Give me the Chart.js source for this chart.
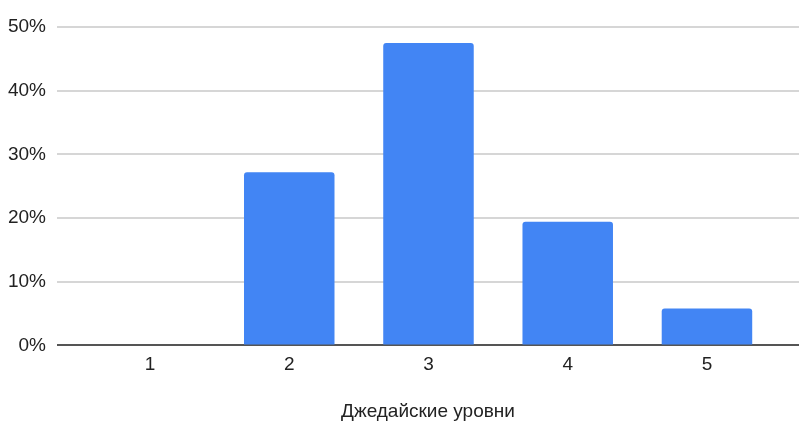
<!DOCTYPE html>
<html>
<head>
<meta charset="utf-8">
<script src="https://cdn.jsdelivr.net/npm/chart.js@4"></script>
<style>
  html, body { margin: 0; padding: 0; background: #fff; }
  #wrap { width: 808px; height: 442px; }
</style>
</head>
<body>
<div id="wrap"><canvas id="levelsChart" width="808" height="442"></canvas></div>
<script>
const categories = ['1', '2', '3', '4', '5'];
const shares = [0, 27.2, 47.5, 19.4, 5.8];
const yTicks = [0, 10, 20, 30, 40, 50];
const xTitle = 'Джедайские уровни';

const points = categories.map((c, i) => ({ x: i + 1, y: shares[i] }));

const font = { family: 'Arial, "Liberation Sans", sans-serif', size: 19 };

const ctx = document.getElementById('levelsChart').getContext('2d');
new Chart(ctx, {
    type: 'bar',
    data: {
        datasets: [{
            data: points,
            backgroundColor: '#4285f4',
            borderRadius: { topLeft: 3, topRight: 3 },
            borderSkipped: 'bottom',
            categoryPercentage: 1,
            barPercentage: 0.65
        }]
    },
    options: {
        responsive: false,
        animation: false,
        layout: { padding: { top: 27, right: 9, bottom: 19, left: 0 } },
        plugins: {
            legend: { display: false },
            tooltip: { enabled: false }
        },
        scales: {
            x: {
                type: 'linear',
                offset: false,
                min: 0.332,
                max: 5.661,
                afterBuildTicks: scale => {
                    scale.ticks = categories.map((c, i) => ({ value: i + 1 }));
                },
                ticks: {
                    color: '#222',
                    font: font,
                    padding: 0,
                    maxRotation: 0,
                    autoSkip: false,
                    callback: v => categories[v - 1]
                },
                grid: { display: false },
                border: { display: false },
                title: {
                    display: true,
                    text: xTitle,
                    color: '#222',
                    font: font,
                    padding: { top: 24, bottom: 0 }
                }
            },
            y: {
                min: 0,
                max: 50,
                afterBuildTicks: scale => {
                    scale.ticks = yTicks.map(v => ({ value: v }));
                },
                afterFit: scale => { scale.width = 57; },
                ticks: {
                    color: '#222',
                    font: font,
                    padding: 11,
                    callback: v => v + '%'
                },
                grid: {
                    drawTicks: false,
                    lineWidth: 2,
                    color: ctx => ctx.tick && ctx.tick.value === 0 ? '#555' : '#d6d6d6'
                },
                border: { display: false }
            }
        }
    }
});
</script>
</body>
</html>
